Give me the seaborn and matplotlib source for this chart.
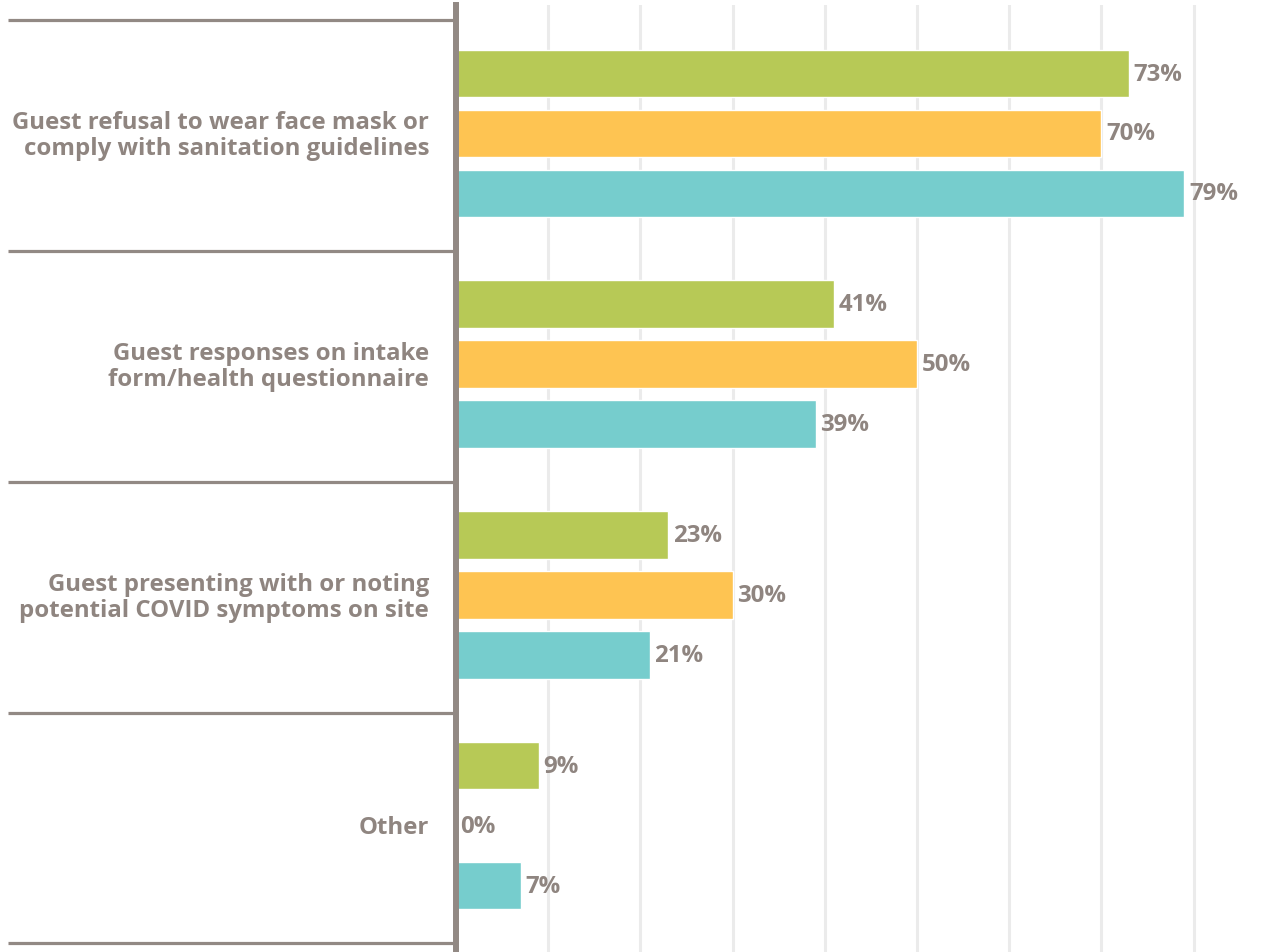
import numpy as np
import pandas as pd
import matplotlib
matplotlib.use("Agg")
import matplotlib.pyplot as plt
import matplotlib.transforms as mtransforms
import seaborn as sns

# --- data -------------------------------------------------------------
categories = [
    "Guest refusal to wear face mask or\ncomply with sanitation guidelines",
    "Guest responses on intake\nform/health questionnaire",
    "Guest presenting with or noting\npotential COVID symptoms on site",
    "Other",
]
series_names = ["Wave 1", "Wave 2", "Wave 3"]
wave1 = [73, 41, 23, 9]
wave2 = [70, 50, 30, 0]
wave3 = [79, 39, 21, 7]
series_colors = ["#b7c956", "#fec452", "#76cdcd"]

df = pd.DataFrame({
    "category": np.tile(categories, 3),
    "series": np.repeat(series_names, len(categories)),
    "value": wave1 + wave2 + wave3,
})

# --- style ------------------------------------------------------------
sns.set_theme(style="white")
plt.rcParams["font.family"] = ["Open Sans", "DejaVu Sans"]
text_color = "#8f8580"
line_color = "#928984"
grid_color = "#ebebeb"
label_size = 17.3

W, H = 1284, 953
fig = plt.figure(figsize=(W / 100, H / 100), dpi=100)
ax = fig.add_axes([456 / W, 0, 1 - 456 / W, (H - 6) / H])

sns.barplot(
    data=df, y="category", x="value", hue="series",
    order=categories, hue_order=series_names,
    palette=series_colors, saturation=1, orient="h",
    width=0.78, gap=0.205, legend=False, ax=ax, zorder=2,
)

ax.set_xlim(0, 89.8)
ax.set_ylim(3.548, -0.557)

# vertical gridlines every 10%
ax.set_xticks(np.arange(10, 90, 10))
ax.xaxis.grid(True, color=grid_color, linewidth=2.2, zorder=0)
ax.set_axisbelow(True)
ax.tick_params(axis="both", length=0, labelbottom=False, labelleft=False)
ax.set_xlabel("")
ax.set_ylabel("")

for side in ["top", "right", "bottom"]:
    ax.spines[side].set_visible(False)
ax.spines["left"].set_color(line_color)
ax.spines["left"].set_linewidth(4.3)
ax.spines["left"].set_zorder(5)

# value labels
for cont in ax.containers:
    ax.bar_label(cont, fmt="%g%%", padding=3.3, fontsize=label_size,
                 fontweight="bold", color=text_color)

# category labels and separators in the left margin
trans = mtransforms.blended_transform_factory(ax.transAxes, ax.transData)
for i, cat in enumerate(categories):
    ax.text(-27 / 828, i + 0.008, cat, transform=trans, ha="right",
            va="center", fontsize=label_size, fontweight="bold",
            color=text_color, linespacing=1.12)
for y in np.arange(-0.5, len(categories), 1.0):
    ax.plot([-448 / 828, -3 / 828], [y + 0.01, y + 0.01], transform=trans,
            color=line_color, linewidth=2.3, clip_on=False,
            solid_capstyle="butt")

fig.savefig("out.png", dpi=100, facecolor="white")
